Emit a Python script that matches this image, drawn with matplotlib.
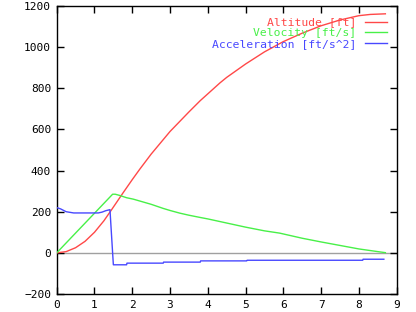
import matplotlib
matplotlib.use("Agg")
import matplotlib.pyplot as plt

# ---- data ----
t_alt = [0, 0.25, 0.5, 0.75, 1.0, 1.25, 1.45, 1.75, 2.0, 2.2, 2.5, 3.0, 3.5, 3.8, 4.0,
         4.32, 4.5, 5.0, 5.5, 6.0, 6.5, 7.0, 7.5, 8.0, 8.3, 8.7]
altitude = [0, 6, 25, 56, 100, 156, 209, 290, 356, 407, 480, 590, 685, 740, 773,
            826, 853, 918, 977, 1027, 1068, 1104, 1132, 1153, 1159, 1162]

t_vel = [0, 1.48, 1.55, 1.67, 1.85, 2.03, 2.5, 2.82, 3.0, 3.26, 3.5, 3.8, 4.0, 4.5,
         5.0, 5.5, 5.9, 6.5, 7.0, 7.5, 8.0, 8.5, 8.7]
velocity = [0, 285, 285, 279, 268, 261, 236, 216, 206, 193, 183, 172, 165, 145,
            125, 107, 96, 71, 53, 36, 19, 6, 1]

t_acc = [0, 0.1, 0.25, 0.45, 0.8, 1.1, 1.2, 1.3, 1.41, 1.43, 1.46, 1.48, 1.5,
         1.85, 1.86, 2.82, 2.83, 3.8, 3.81, 5.03, 5.04, 8.1, 8.11, 8.66]
acceleration = [220, 214, 200, 194, 194, 194, 198, 205, 210, 150, 60, 0, -58,
                -58, -50, -50, -45, -45, -39, -39, -36, -36, -31, -31]

labels = ["Altitude [ft]", "Velocity [ft/s]", "Acceleration [ft/s^2]"]
colors = ["#ff4848", "#48f048", "#4848ff"]

xticks = list(range(0, 10))
yticks = list(range(-200, 1201, 200))

plt.rcParams['font.family'] = ['DejaVu Sans Mono']

fig = plt.figure(figsize=(4.16, 3.12), dpi=100)
ax = fig.add_axes([56.7 / 416, 1 - 294 / 312, (396.7 - 56.7) / 416, (294 - 6) / 312])

ax.axhline(0, color="#a0a0a0", lw=1.0, zorder=1)
ax.plot(t_alt, altitude, color=colors[0], lw=1.0, label=labels[0], zorder=3)
ax.plot(t_vel, velocity, color=colors[1], lw=1.0, label=labels[1], zorder=3)
ax.plot(t_acc, acceleration, color=colors[2], lw=1.0, label=labels[2], zorder=3)

ax.set_xlim(0, 9)
ax.set_ylim(-200, 1200)
ax.set_xticks(xticks)
ax.set_yticks(yticks)
ax.tick_params(direction="in", length=5, width=1, top=True, right=True,
               labelsize=8, colors="black", pad=4)
for s in ax.spines.values():
    s.set_linewidth(1.0)
    s.set_color("black")

leg = ax.legend(loc="upper right",
                bbox_to_anchor=((387 - 56.7) / 340.0, (294 - 17.5) / 288.0),
                frameon=False, markerfirst=False, labelcolor="linecolor",
                fontsize=8.2, handlelength=1.9, handletextpad=0.8,
                labelspacing=0.05, borderpad=0, borderaxespad=0)

fig.savefig("out.png", dpi=100)
